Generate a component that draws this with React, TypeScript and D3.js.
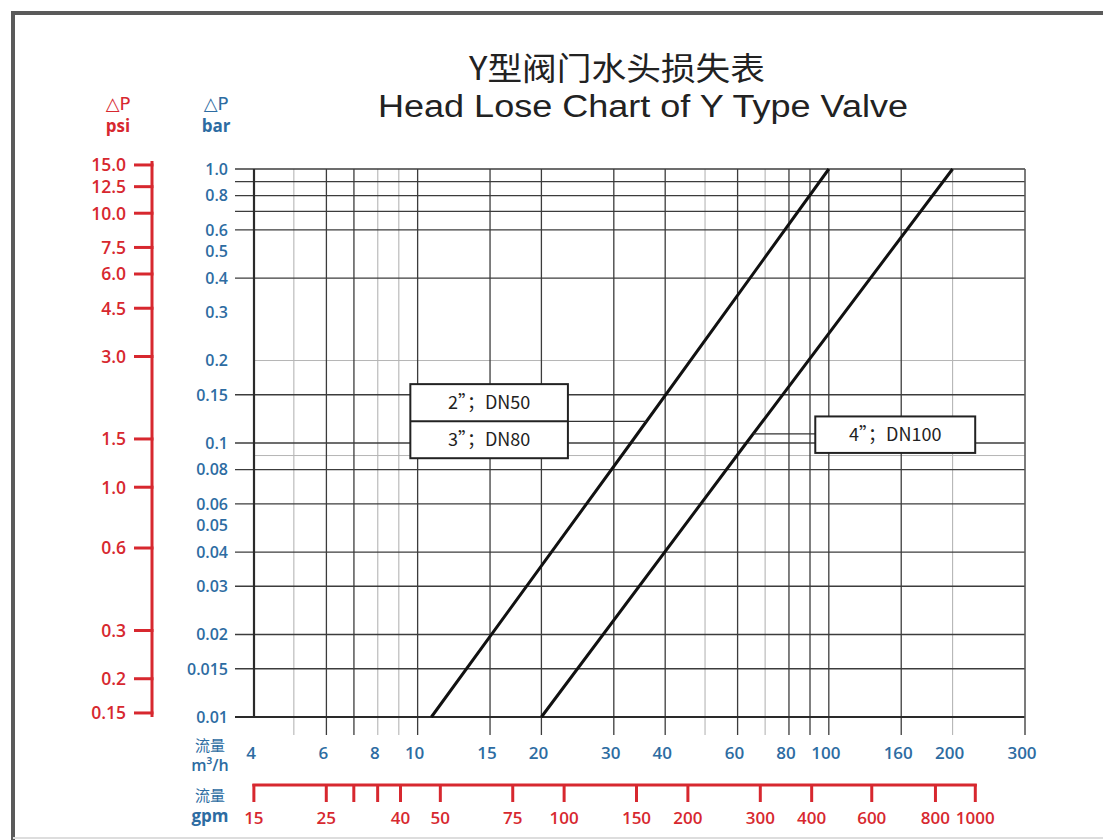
import React from "react";
import * as d3 from "d3";

// flow axis (m³/h)
const flowTicks = [4, 6, 8, 10, 15, 20, 30, 40, 60, 80, 100, 150, 200, 300];
const flowTickLabels = ["4", "6", "8", "10", "15", "20", "30", "40", "60", "80", "100", "160", "200", "300"];
const flowGridMajor = [6, 7, 10, 15, 20, 30, 40, 60, 80, 90, 100, 150];
const flowGridMinor = [5, 8, 9, 50, 70, 200];

// gpm axis (drawn against the m³/h scale, 1 m³/h = 4.403 gpm)
const gpmTicks = [17.6, 26.4, 30.8, 35.2, 40, 50, 75, 100, 150, 200, 300, 400, 560, 800, 1000];
const gpmTickLabels = ["15", "25", "", "", "40", "50", "75", "100", "150", "200", "300", "400", "600", "800", "1000"];

// pressure drop (bar)
const dpLabels = [1.0, 0.8, 0.6, 0.5, 0.4, 0.3, 0.2, 0.15, 0.1, 0.08, 0.06, 0.05, 0.04, 0.03, 0.02, 0.015, 0.01];
const dpGridMajor = [0.9, 0.8, 0.7, 0.6, 0.4, 0.15, 0.1, 0.08, 0.06, 0.04, 0.03, 0.02, 0.015];
const dpGridMinor = [0.2, 0.09];

// pressure drop (psi), 1 bar = 14.5 psi
const psiTicks = [15, 12.5, 10, 7.5, 6, 4.5, 3, 1.5, 1, 0.6, 0.3, 0.2, 0.15];
const psiTickLabels = ["15.0", "12.5", "10.0", "7.5", "6.0", "4.5", "3.0", "1.5", "1.0", "0.6", "0.3", "0.2", "0.15"];

// valve curves
const smallFlow = [10.8, 33, 100];
const smallDp = [0.01, 0.1, 1.0];
const largeFlow = [20, 63, 200];
const largeDp = [0.01, 0.1, 1.0];

const annotations = [
  { rows: ["2”；DN50", "3”；DN80"], flowLo: 9.6, flowHi: 23.2, dpHi: 0.164, dpLo: 0.088, leaderDp: 0.12, curve: 0 },
  { rows: ["4”；DN100"], flowLo: 92.7, flowHi: 227, dpHi: 0.125, dpLo: 0.092, leaderDp: 0.108, curve: 1 },
];

const W = 1103;
const H = 840;
const blue = "#2d6ca2";
const red = "#d7282f";
const numFont = "'Open Sans', 'DejaVu Sans', sans-serif";
const symFont = "'DejaVu Sans', sans-serif";
const cjkFont = "'Noto Sans CJK SC', sans-serif";

const x = d3.scaleLog().domain([4, 300]).range([254, 1025]);
const y = d3.scaleLog().domain([0.01, 1]).range([717, 169]);
const xg = (v: number) => x(v / 4.403);
const yp = (v: number) => y(v / 14.5);

const curves = [
  smallFlow.map((f, i) => [f, smallDp[i]] as [number, number]),
  largeFlow.map((f, i) => [f, largeDp[i]] as [number, number]),
];

// log-log interpolation of flow on a curve at a given pressure drop
const flowAt = (pts: [number, number][], dp: number) => {
  for (let i = 0; i < pts.length - 1; i++) {
    const [f0, p0] = pts[i];
    const [f1, p1] = pts[i + 1];
    if (dp >= p0 && dp <= p1) {
      const t = (Math.log(dp) - Math.log(p0)) / (Math.log(p1) - Math.log(p0));
      return Math.exp(Math.log(f0) + t * (Math.log(f1) - Math.log(f0)));
    }
  }
  return pts[0][0];
};

const line = d3
  .line<[number, number]>()
  .x((d) => x(d[0]))
  .y((d) => y(d[1]));

const fmtDp = (v: number) => (v === 1 ? "1.0" : String(v));

export default function App() {
  const [x0, x1] = x.range();
  const [y0, y1] = y.range();

  return (
    <svg
      width={W}
      height={H}
      viewBox={`0 0 ${W} ${H}`}
      style={{ position: "absolute", left: 0, top: 0, background: "#fff" }}
    >
      <rect width={W} height={H} fill="#fff" />
      {/* outer frame */}
      <path d={`M13,${H} V13 H${W}`} fill="none" stroke="#5a5a5a" strokeWidth={4} />
      <line x1={13} x2={W} y1={838} y2={838} stroke="#ddd" strokeWidth={2} />

      {/* titles */}
      <text x={617} y={80} textAnchor="middle" fontFamily={cjkFont} fontSize={32} fill="#222"
        textLength={296} lengthAdjust="spacingAndGlyphs">
        Y型阀门水头损失表
      </text>
      <text x={643} y={117} textAnchor="middle" fontFamily="'Liberation Sans', Arial, sans-serif" fontSize={31}
        fill="#222" textLength={530} lengthAdjust="spacingAndGlyphs">
        Head Lose Chart of Y Type Valve
      </text>

      {/* unit headers */}
      <text x={118} y={110} textAnchor="middle" fontFamily={symFont} fontSize={18} fill={red}>△P</text>
      <text x={118} y={132} textAnchor="middle" fontFamily={numFont} fontSize={17} fontWeight={700} fill={red}>psi</text>
      <text x={216} y={110} textAnchor="middle" fontFamily={symFont} fontSize={18} fill={blue}>△P</text>
      <text x={216} y={132} textAnchor="middle" fontFamily={numFont} fontSize={17} fontWeight={700} fill={blue}>bar</text>

      {/* psi axis */}
      <g>
        <line x1={152} x2={152} y1={yp(psiTicks[0]) - 4} y2={yp(psiTicks[psiTicks.length - 1]) + 4}
          stroke={red} strokeWidth={3} />
        {psiTicks.map((v, i) => (
          <g key={v}>
            <line x1={134} x2={153.5} y1={yp(v)} y2={yp(v)} stroke={red} strokeWidth={3} />
            <text x={126} y={yp(v)} dy="0.36em" textAnchor="end" fontFamily={numFont} fontSize={17.5}
              fontWeight={600} fill={red}>
              {psiTickLabels[i]}
            </text>
          </g>
        ))}
      </g>

      {/* grid */}
      <g>
        {dpGridMinor.map((v) => (
          <line key={`hm${v}`} x1={x0} x2={x1} y1={y(v)} y2={y(v)} stroke="#b5b5b5" strokeWidth={1} />
        ))}
        {flowGridMinor.map((v) => (
          <line key={`vm${v}`} x1={x(v)} x2={x(v)} y1={y1} y2={735} stroke="#b5b5b5" strokeWidth={1.1} />
        ))}
        {dpGridMajor.map((v) => (
          <line key={`h${v}`} x1={235} x2={x1} y1={y(v)} y2={y(v)} stroke="#3c3c3c" strokeWidth={1.3} />
        ))}
        {flowGridMajor.map((v) => (
          <line key={`v${v}`} x1={x(v)} x2={x(v)} y1={y1} y2={735} stroke="#3c3c3c" strokeWidth={1.3} />
        ))}
        {/* plot frame */}
        <line x1={235} x2={x1} y1={y1} y2={y1} stroke="#3c3c3c" strokeWidth={1.6} />
        <line x1={235} x2={x1} y1={y0} y2={y0} stroke="#2a2a2a" strokeWidth={2} />
        <line x1={x0} x2={x0} y1={y1} y2={y0} stroke="#2a2a2a" strokeWidth={2.2} />
        <line x1={x1} x2={x1} y1={y1} y2={735} stroke="#5a5a5a" strokeWidth={1.6} />
      </g>

      {/* bar labels */}
      {dpLabels.map((v) => (
        <text key={`l${v}`} x={228} y={y(v)} dy="0.36em" textAnchor="end" fontFamily={numFont} fontSize={16}
          fontWeight={600} fill={blue}>
          {fmtDp(v)}
        </text>
      ))}

      {/* curves */}
      {curves.map((c, i) => (
        <path key={i} d={line(c) || ""} fill="none" stroke="#111" strokeWidth={3} />
      ))}

      {/* annotations */}
      {annotations.map((a, i) => {
        const bx0 = x(a.flowLo);
        const bx1 = x(a.flowHi);
        const by0 = y(a.dpHi);
        const by1 = y(a.dpLo);
        const ly = y(a.leaderDp);
        const lx = x(flowAt(curves[a.curve], a.leaderDp));
        const rowH = (by1 - by0) / a.rows.length;
        const leftSide = lx < bx0;
        return (
          <g key={i}>
            <line x1={leftSide ? lx : bx1} x2={leftSide ? bx0 : lx} y1={ly} y2={ly} stroke="#333" strokeWidth={1.3} />
            <rect x={bx0} y={by0} width={bx1 - bx0} height={by1 - by0} fill="#fff" stroke="#222" strokeWidth={2} />
            {a.rows.map((r, j) => (
              <g key={r}>
                {j > 0 && (
                  <line x1={bx0} x2={bx1} y1={by0 + rowH * j} y2={by0 + rowH * j} stroke="#222" strokeWidth={2} />
                )}
                <text x={(bx0 + bx1) / 2} y={by0 + rowH * (j + 0.5)} dy="0.36em" textAnchor="middle"
                  fontFamily={cjkFont} fontSize={18} fill="#222">
                  {r}
                </text>
              </g>
            ))}
          </g>
        );
      })}

      {/* flow (m³/h) labels */}
      <text x={210} y={751} textAnchor="middle" fontFamily={cjkFont} fontSize={15} fill={blue}>流量</text>
      <text x={210} y={771} textAnchor="middle" fontFamily={numFont} fontSize={16} fontWeight={600} fill={blue}>m³/h</text>
      {flowTicks.map((v, i) => (
        <text key={`f${v}`} x={x(v) - 3} y={759} textAnchor="middle" fontFamily={numFont} fontSize={17}
          fontWeight={600} fill={blue}>
          {flowTickLabels[i]}
        </text>
      ))}

      {/* gpm axis */}
      <text x={210} y={801} textAnchor="middle" fontFamily={cjkFont} fontSize={15} fill={blue}>流量</text>
      <text x={210} y={822} textAnchor="middle" fontFamily={numFont} fontSize={17} fontWeight={700} fill={blue}>gpm</text>
      <line x1={xg(gpmTicks[0]) - 1.5} x2={xg(gpmTicks[gpmTicks.length - 1]) + 1.5} y1={785} y2={785}
        stroke={red} strokeWidth={3} />
      {gpmTicks.map((v, i) => (
        <g key={`g${v}`}>
          <line x1={xg(v)} x2={xg(v)} y1={784} y2={802} stroke={red} strokeWidth={3} />
          <text x={xg(v)} y={824} textAnchor="middle" fontFamily={numFont} fontSize={17} fontWeight={600} fill={red}>
            {gpmTickLabels[i]}
          </text>
        </g>
      ))}
    </svg>
  );
}
